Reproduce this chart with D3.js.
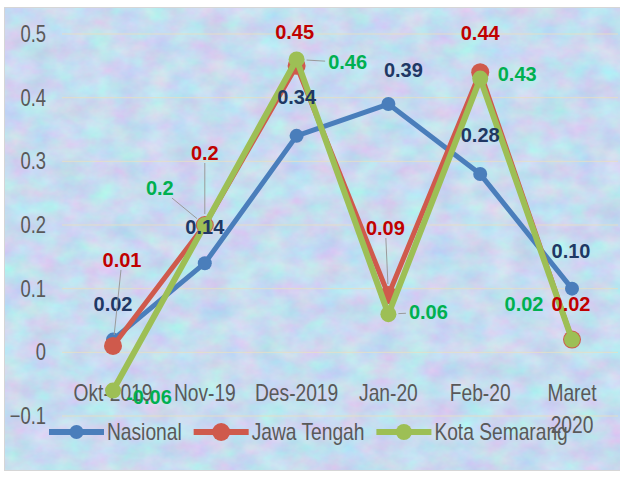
<!DOCTYPE html>
<html>
<head>
<meta charset="utf-8">
<script src="https://cdn.jsdelivr.net/npm/d3@7/dist/d3.min.js"></script>
<style>
  html, body { margin: 0; padding: 0; background: #fff; }
  svg { display: block; }
</style>
</head>
<body>
<div id="chart"></div>
<script>
// chart data
const categories = ["Okt-2019", "Nov-19", "Des-2019", "Jan-20", "Feb-20", "Maret 2020"];
const nasional = [0.02, 0.14, 0.34, 0.39, 0.28, 0.10];
const jawaTengah = [0.01, 0.2, 0.45, 0.09, 0.44, 0.02];
const kotaSemarang = [-0.06, 0.2, 0.46, 0.06, 0.43, 0.02];
const nasionalLabels = ["0.02", "0.14", "0.34", "0.39", "0.28", "0.10"];
const jawaTengahLabels = ["0.01", "0.2", "0.45", "0.09", "0.44", "0.02"];
const kotaSemarangLabels = ["-0.06", "0.2", "0.46", "0.06", "0.43", "0.02"];
const yTicks = [-0.1, 0, 0.1, 0.2, 0.3, 0.4, 0.5];
const seriesNames = ["Nasional", "Jawa Tengah", "Kota Semarang"];

const W = 620, H = 477;
const axisFont = "'Liberation Sans', Arial, sans-serif";
const SQ = 0.8; // horizontal squeeze, the original font is narrow and tall

// label placement (offset of label centre from its point) and leader lines
const series = [
  { name: seriesNames[0], values: nasional, labels: nasionalLabels,
    line: "#4a7ebb", width: 5, r: 7, text: "#1f3864",
    off: [[0, -36], [0, -36], [0, -39], [15, -34], [0, -39], [-1, -38]],
    leader: [false, false, false, false, false, false] },
  { name: seriesNames[1], values: jawaTengah, labels: jawaTengahLabels,
    line: "#cf5a4c", width: 5, r: 9, text: "#c00000",
    off: [[9, -86], [0, -72], [-2, -34], [-3, -67], [0, -39], [-1, -36]],
    leader: [true, true, false, true, false, false] },
  { name: seriesNames[2], values: kotaSemarang, labels: kotaSemarangLabels,
    line: "#9dbf55", width: 6, r: 8, text: "#00b050",
    off: [[36, 6], [-45, -37], [51, 3], [40, -2], [37, -5], [-48, -36]],
    leader: [false, true, true, true, false, false] }
];

const svg = d3.select("#chart").append("svg")
  .attr("width", W).attr("height", H);

// textured bluish background
const defs = svg.append("defs");
const f = defs.append("filter").attr("id", "tex")
  .attr("x", 0).attr("y", 0).attr("width", "100%").attr("height", "100%")
  .attr("color-interpolation-filters", "sRGB");
f.append("feTurbulence").attr("type", "fractalNoise")
  .attr("baseFrequency", "0.035 0.05").attr("numOctaves", 4).attr("seed", 7);
f.append("feColorMatrix").attr("type", "matrix")
  .attr("values", "0.26 0 0 0 0.65  -0.12 0.18 0 0 0.83  0 0 0.08 0 0.9  0 0 0 0 1");

svg.append("rect").attr("x", 5).attr("y", 8).attr("width", 615).attr("height", 462)
  .attr("fill", "#cddcf0").attr("filter", "url(#tex)");
svg.append("rect").attr("x", 4.5).attr("y", 7.5).attr("width", 616).attr("height", 463)
  .attr("fill", "none").attr("stroke", "#d6d6d6");

const x = d3.scalePoint().domain(categories).range([113, 572]);
const y = d3.scaleLinear().domain([-0.1, 0.5]).range([416, 34]);

// gridlines
svg.append("g").selectAll("line").data(yTicks).enter().append("line")
  .attr("x1", 62).attr("x2", 618)
  .attr("y1", d => y(d)).attr("y2", d => y(d))
  .attr("stroke", "#e8dfc0").attr("stroke-opacity", 0.8).attr("stroke-width", 1);

// y axis tick labels
const yAxis = svg.append("g").attr("transform", "translate(46,0)")
  .call(d3.axisLeft(y).tickValues(yTicks).tickSize(0).tickPadding(0)
    .tickFormat(d => d3.format("")(+d.toFixed(1))));
yAxis.select(".domain").remove();
yAxis.selectAll("text")
  .attr("x", 0)
  .attr("transform", `scale(${SQ},1)`)
  .attr("fill", "#595959")
  .style("font-family", axisFont)
  .style("font-size", "23px");

// category labels
svg.append("g").selectAll("text").data(categories).enter().append("text")
  .attr("transform", d => `translate(${x(d)},401) scale(${SQ},1)`)
  .attr("text-anchor", "middle")
  .attr("fill", "#595959")
  .style("font-family", axisFont)
  .style("font-size", "24px")
  .each(function(d) {
    d3.select(this).selectAll("tspan").data(d.split(" ")).enter().append("tspan")
      .attr("x", 0).attr("dy", (p, i) => i === 0 ? 0 : 32)
      .text(p => p);
  });

// lines and markers
const line = d3.line().x((v, i) => x(categories[i])).y(v => y(v));
series.forEach(s => {
  const g = svg.append("g");
  g.append("path").datum(s.values).attr("d", line)
    .attr("fill", "none").attr("stroke", s.line)
    .attr("stroke-width", s.width).attr("stroke-linejoin", "round");
  g.selectAll("circle").data(s.values).enter().append("circle")
    .attr("cx", (v, i) => x(categories[i])).attr("cy", v => y(v))
    .attr("r", s.r).attr("fill", s.line);
});

// data labels with leader lines
const labelFont = "'Liberation Sans', Arial, sans-serif";
series.forEach(s => {
  const g = svg.append("g");
  s.values.forEach((v, i) => {
    const px = x(categories[i]), py = y(v);
    const lx = px + s.off[i][0], ly = py + s.off[i][1];
    const t = g.append("text")
      .attr("x", lx).attr("y", ly).attr("dy", "0.35em")
      .attr("text-anchor", "middle")
      .attr("fill", s.text)
      .style("font-family", labelFont)
      .style("font-weight", "bold")
      .style("font-size", "20px")
      .text(s.labels[i]);
    if (s.leader[i]) {
      const b = t.node().getBBox();
      const hw = b.width / 2 + 3, hh = b.height / 2 - 1;
      const dx = px - lx, dy = py - ly;
      const k = Math.min(dx !== 0 ? hw / Math.abs(dx) : Infinity, dy !== 0 ? hh / Math.abs(dy) : Infinity);
      const len = Math.hypot(dx, dy);
      const k2 = 1 - (s.r + 2) / len;
      if (k < k2) {
        g.insert("line", "text")
          .attr("x1", lx + dx * k).attr("y1", ly + dy * k)
          .attr("x2", lx + dx * k2).attr("y2", ly + dy * k2)
          .attr("stroke", "#9a9a9a").attr("stroke-width", 1);
      }
    }
  });
});

// legend
const legend = svg.append("g");
let lx = 49;
series.forEach(s => {
  legend.append("line").attr("x1", lx).attr("x2", lx + 55)
    .attr("y1", 432).attr("y2", 432)
    .attr("stroke", s.line).attr("stroke-width", 6);
  legend.append("circle").attr("cx", lx + 27.5).attr("cy", 432)
    .attr("r", s.r).attr("fill", s.line);
  const t = legend.append("text")
    .attr("transform", `translate(${lx + 58},440) scale(${SQ},1)`)
    .attr("fill", "#595959")
    .style("font-family", axisFont)
    .style("font-size", "24px")
    .text(s.name);
  lx += 58 + t.node().getComputedTextLength() * SQ + 12;
});
</script>
</body>
</html>
